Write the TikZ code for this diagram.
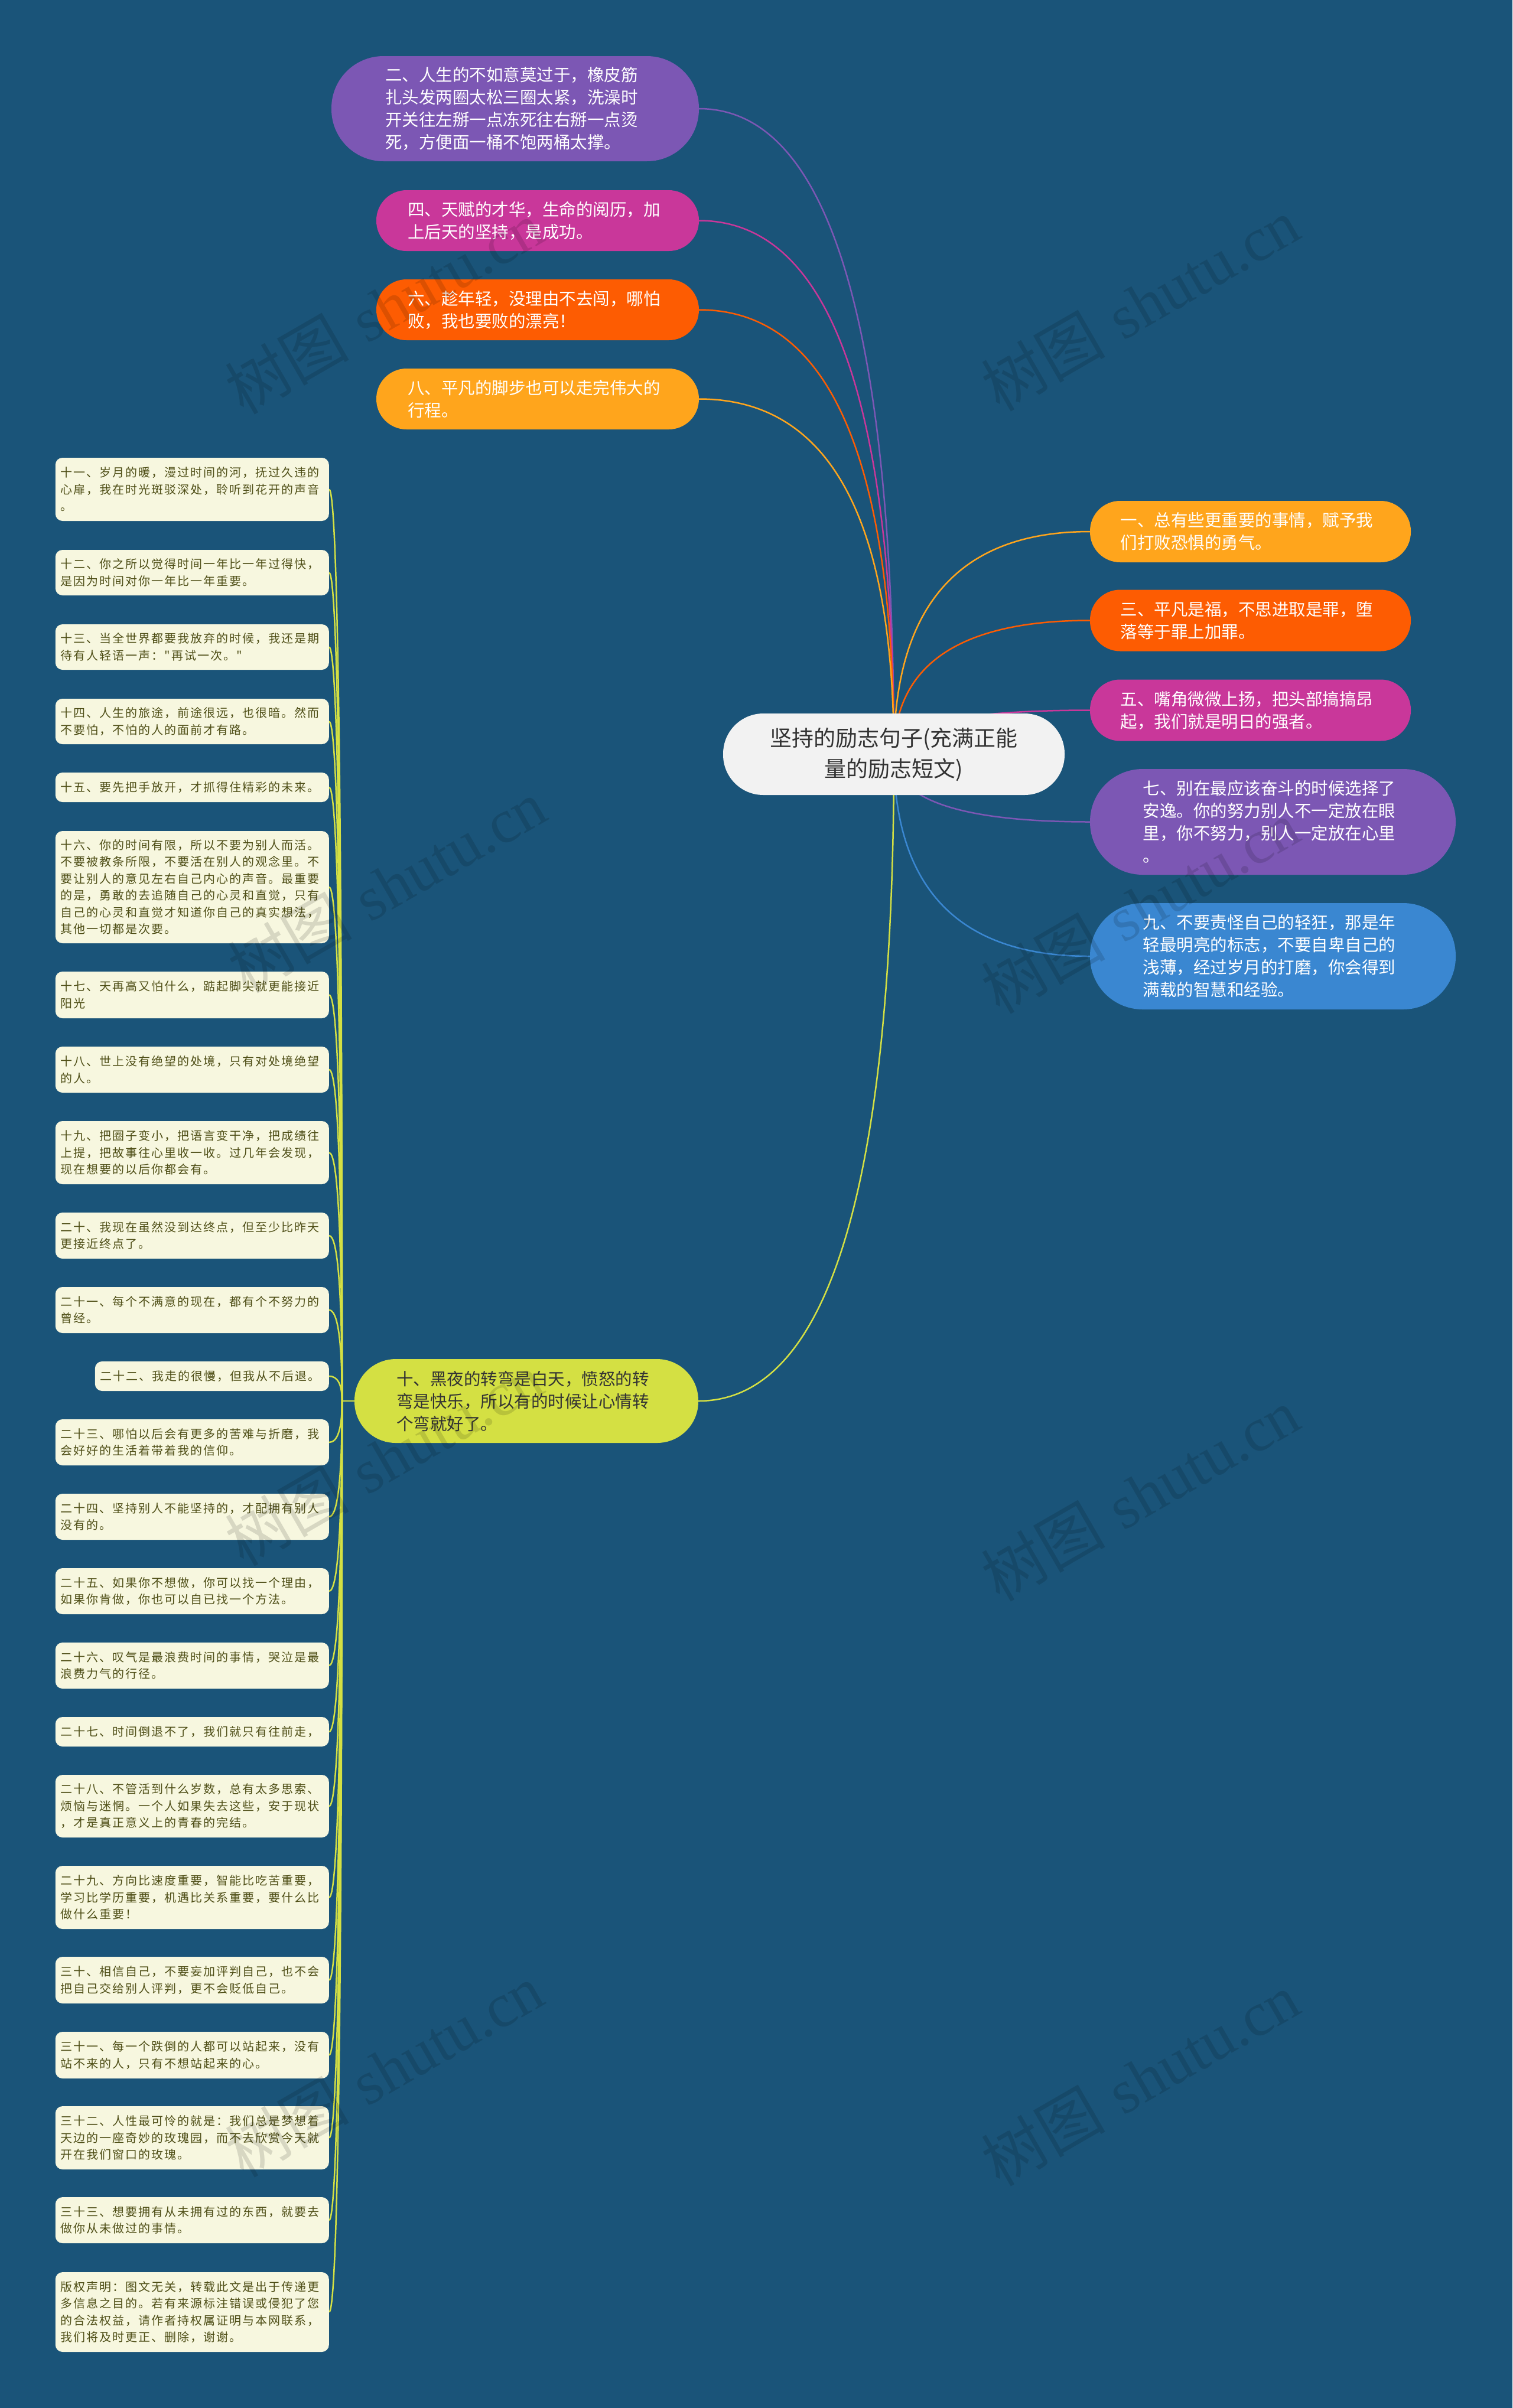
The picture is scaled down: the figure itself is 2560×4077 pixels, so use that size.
\documentclass[tikz,border=0pt]{standalone}
\usepackage{fontspec}
\newfontfamily\cjk{Noto Sans CJK SC}
\newfontfamily\cjkw[LetterSpace=10]{Noto Sans CJK SC}
\newfontfamily\wmlat{Liberation Serif}
\usetikzlibrary{calc}
\definecolor{bgblue}{HTML}{1A5479}
\definecolor{cPurple}{HTML}{7C57B4}
\definecolor{cMagenta}{HTML}{C9379A}
\definecolor{cRed}{HTML}{FD5C02}
\definecolor{cOrange}{HTML}{FFA51C}
\definecolor{cBlue}{HTML}{3A87D1}
\definecolor{cLime}{HTML}{D4E043}
\definecolor{rootbg}{HTML}{F2F2F2}
\definecolor{leafbg}{HTML}{F7F7DF}
\definecolor{leaftext}{HTML}{4E4E16}
\definecolor{darktext}{HTML}{333333}
\pgfdeclarelayer{bglayer}
\pgfdeclarelayer{linelayer}
\pgfsetlayers{bglayer,linelayer,main}
\tikzset{
  qc/.style={to path={let \p1=(\tikztostart), \p2=(\tikztotarget) in
     .. controls (\x1,{\y1+2/3*(\y2-\y1)}) and ({\x2+2/3*(\x1-\x2)},\y2) .. (\tikztotarget)}},
  conn/.style={line width=2.5pt},
  leafconn/.style={line width=2.5pt, cLime},
  pill/.style={draw=none, inner sep=0pt, text width=440pt, align=left,
     font=\cjk\fontsize{28.5}{38}\selectfont, text=white},
  leaf/.style={fill=leafbg, rounded corners=12pt, anchor=east, inner xsep=9pt,
     inner ysep=2pt, text width=445pt, align=left,
     font=\cjkw\fontsize{20}{28.5}\selectfont, text=leaftext},
  wm/.style={rotate=30, text=black, text opacity=0.13, inner sep=0pt,
     font=\fontsize{105}{105}\selectfont}
}
\begin{document}
\begin{tikzpicture}[x=1pt,y=-1pt]
\useasboundingbox (0,0) rectangle (2560,4077);
\begin{pgfonlayer}{bglayer}
\fill[bgblue] (0,0) rectangle (2560,4077);
\end{pgfonlayer}

% root
\node[fill=rootbg, rounded corners=68pt, minimum width=578pt, minimum height=138pt,
  inner sep=0pt, text width=520pt, align=center, text=darktext,
  font=\cjk\fontsize{37}{52}\selectfont] (root) at (1513,1277)
  {坚持的励志句子(充满正能\\量的励志短文)};

% left top
\node[pill, fill=cPurple, minimum width=622pt, minimum height=178pt, rounded corners=88pt] (n2) at (872,184)
  {二、人生的不如意莫过于，橡皮筋\\扎头发两圈太松三圈太紧，洗澡时\\开关往左掰一点冻死往右掰一点烫\\死，方便面一桶不饱两桶太撑。};
\node[pill, fill=cMagenta, minimum width=546pt, minimum height=103pt, rounded corners=51pt] (n4) at (910,373.5)
  {四、天赋的才华，生命的阅历，加\\上后天的坚持，是成功。};
\node[pill, fill=cRed, minimum width=546pt, minimum height=103pt, rounded corners=51pt] (n6) at (910,524.5)
  {六、趁年轻，没理由不去闯，哪怕\\败，我也要败的漂亮！};
\node[pill, fill=cOrange, minimum width=546pt, minimum height=103pt, rounded corners=51pt] (n8) at (910,675.5)
  {八、平凡的脚步也可以走完伟大的\\行程。};

% right
\node[pill, fill=cOrange, minimum width=543pt, minimum height=104pt, rounded corners=51pt] (n1) at (2116.5,900)
  {一、总有些更重要的事情，赋予我\\们打败恐惧的勇气。};
\node[pill, fill=cRed, minimum width=543pt, minimum height=104pt, rounded corners=51pt] (n3) at (2116.5,1050.5)
  {三、平凡是福，不思进取是罪，堕\\落等于罪上加罪。};
\node[pill, fill=cMagenta, minimum width=543pt, minimum height=104pt, rounded corners=51pt] (n5) at (2116.5,1202.5)
  {五、嘴角微微上扬，把头部搞搞昂\\起，我们就是明日的强者。};
\node[pill, fill=cPurple, minimum width=619pt, minimum height=179pt, rounded corners=89pt] (n7) at (2154.5,1391.5)
  {七、别在最应该奋斗的时候选择了\\安逸。你的努力别人不一定放在眼\\里，你不努力，别人一定放在心里\\。};
\node[pill, fill=cBlue, minimum width=619pt, minimum height=180pt, rounded corners=89pt] (n9) at (2154.5,1619)
  {九、不要责怪自己的轻狂，那是年\\轻最明亮的标志，不要自卑自己的\\浅薄，经过岁月的打磨，你会得到\\满载的智慧和经验。};

% ten
\node[pill, fill=cLime, text=darktext, minimum width=582pt, minimum height=142pt, rounded corners=70pt] (n10) at (891,2372)
  {十、黑夜的转弯是白天，愤怒的转\\弯是快乐，所以有的时候让心情转\\个弯就好了。};
\coordinate (j) at (579,2372);

% leaves
\node[leaf, minimum height=107pt] (c11) at (557,828.5)
  {十一、岁月的暖，漫过时间的河，抚过久违的\\心扉，我在时光斑驳深处，聆听到花开的声音\\。};
\node[leaf, minimum height=77pt] (c12) at (557,969.5)
  {十二、你之所以觉得时间一年比一年过得快，\\是因为时间对你一年比一年重要。};
\node[leaf, minimum height=77pt] (c13) at (557,1095.5)
  {十三、当全世界都要我放弃的时候，我还是期\\待有人轻语一声："再试一次。"};
\node[leaf, minimum height=77pt] (c14) at (557,1221.5)
  {十四、人生的旅途，前途很远，也很暗。然而\\不要怕，不怕的人的面前才有路。};
\node[leaf, minimum height=50pt] (c15) at (557,1333)
  {十五、要先把手放开，才抓得住精彩的未来。};
\node[leaf, minimum height=190pt] (c16) at (557,1502)
  {十六、你的时间有限，所以不要为别人而活。\\不要被教条所限，不要活在别人的观念里。不\\要让别人的意见左右自己内心的声音。最重要\\的是，勇敢的去追随自己的心灵和直觉，只有\\自己的心灵和直觉才知道你自己的真实想法，\\其他一切都是次要。};
\node[leaf, minimum height=79pt] (c17) at (557,1684.5)
  {十七、天再高又怕什么，踮起脚尖就更能接近\\阳光};
\node[leaf, minimum height=78pt] (c18) at (557,1811)
  {十八、世上没有绝望的处境，只有对处境绝望\\的人。};
\node[leaf, minimum height=107pt] (c19) at (557,1951.5)
  {十九、把圈子变小，把语言变干净，把成绩往\\上提，把故事往心里收一收。过几年会发现，\\现在想要的以后你都会有。};
\node[leaf, minimum height=78pt] (c20) at (557,2092)
  {二十、我现在虽然没到达终点，但至少比昨天\\更接近终点了。};
\node[leaf, minimum height=78pt] (c21) at (557,2218)
  {二十一、每个不满意的现在，都有个不努力的\\曾经。};
\node[leaf, minimum height=50pt, text width=378pt] (c22) at (557,2330)
  {二十二、我走的很慢，但我从不后退。};
\node[leaf, minimum height=78pt] (c23) at (557,2442)
  {二十三、哪怕以后会有更多的苦难与折磨，我\\会好好的生活着带着我的信仰。};
\node[leaf, minimum height=78pt] (c24) at (557,2568)
  {二十四、坚持别人不能坚持的，才配拥有别人\\没有的。};
\node[leaf, minimum height=78pt] (c25) at (557,2694)
  {二十五、如果你不想做，你可以找一个理由，\\如果你肯做，你也可以自已找一个方法。};
\node[leaf, minimum height=78pt] (c26) at (557,2820)
  {二十六、叹气是最浪费时间的事情，哭泣是最\\浪费力气的行径。};
\node[leaf, minimum height=50pt] (c27) at (557,2932)
  {二十七、时间倒退不了，我们就只有往前走，};
\node[leaf, minimum height=106pt] (c28) at (557,3058)
  {二十八、不管活到什么岁数，总有太多思索、\\烦恼与迷惘。一个人如果失去这些，安于现状\\，才是真正意义上的青春的完结。};
\node[leaf, minimum height=107pt] (c29) at (557,3212.5)
  {二十九、方向比速度重要，智能比吃苦重要，\\学习比学历重要，机遇比关系重要，要什么比\\做什么重要！};
\node[leaf, minimum height=79pt] (c30) at (557,3352.5)
  {三十、相信自己，不要妄加评判自己，也不会\\把自己交给别人评判，更不会贬低自己。};
\node[leaf, minimum height=79pt] (c31) at (557,3479.5)
  {三十一、每一个跌倒的人都可以站起来，没有\\站不来的人，只有不想站起来的心。};
\node[leaf, minimum height=107pt] (c32) at (557,3619.5)
  {三十二、人性最可怜的就是：我们总是梦想着\\天边的一座奇妙的玫瑰园，而不去欣赏今天就\\开在我们窗口的玫瑰。};
\node[leaf, minimum height=78pt] (c33) at (557,3759)
  {三十三、想要拥有从未拥有过的东西，就要去\\做你从未做过的事情。};
\node[leaf, minimum height=135pt] (c34) at (557,3914.5)
  {版权声明：图文无关，转载此文是出于传递更\\多信息之目的。若有来源标注错误或侵犯了您\\的合法权益，请作者持权属证明与本网联系，\\我们将及时更正、删除，谢谢。};

% connectors
\begin{pgfonlayer}{linelayer}
\draw[conn, cPurple] (root.center) to[qc] (n2.east);
\draw[conn, cMagenta] (root.center) to[qc] (n4.east);
\draw[conn, cRed] (root.center) to[qc] (n6.east);
\draw[conn, cOrange] (root.center) to[qc] (n8.east);
\draw[conn, cOrange] (root.center) to[qc] (n1.west);
\draw[conn, cRed] (root.center) to[qc] (n3.west);
\draw[conn, cMagenta] (root.center) to[qc] (n5.west);
\draw[conn, cPurple] (root.center) to[qc] (n7.west);
\draw[conn, cBlue] (root.center) to[qc] (n9.west);
\draw[conn, cLime] (root.center) to[qc] (n10.east);
\draw[leafconn] (n10.west) -- (j);
\foreach \c in {c11,c12,c13,c14,c15,c16,c17,c18,c19,c20,c21,c22,c23,c24,c25,c26,c27,c28,c29,c30,c31,c32,c33,c34}
  \draw[leafconn] (j) to[qc] (\c.east);
\end{pgfonlayer}

% watermarks
\foreach \wx/\wy [count=\i] in {650/520, 1930/515, 655/1500, 1930/1535, 650/2470, 1930/2530, 650/3505, 1930/3520}
  \node[wm] (wm\i) at (\wx,\wy) {{\cjk 树图} {\wmlat shutu.cn}};
\end{tikzpicture}
\end{document}
